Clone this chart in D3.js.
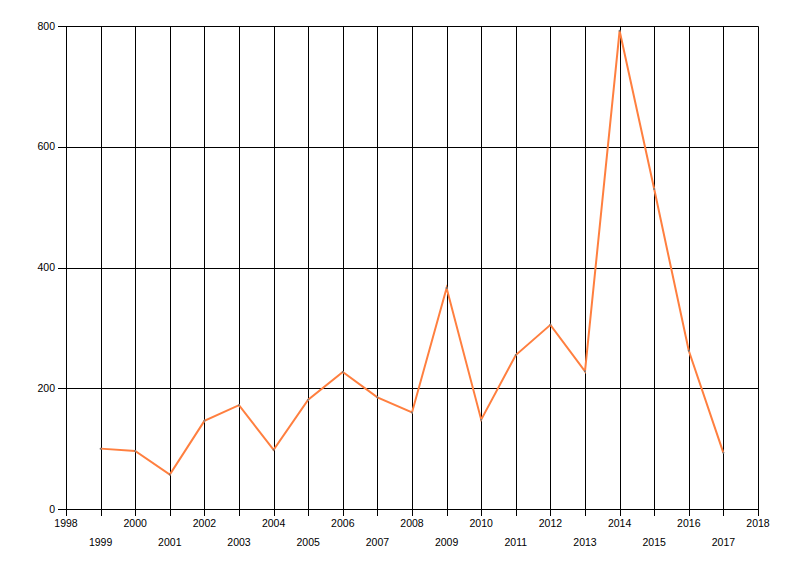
<!DOCTYPE html>
<html>
<head>
<meta charset="utf-8">
<script src="https://cdn.jsdelivr.net/npm/d3@7"></script>
<style>
  body { margin: 0; background: #fff; }
  text { font-family: "Liberation Sans", Arial, sans-serif; font-size: 10.5px; fill: #000; }
</style>
</head>
<body>
<div id="chart"></div>
<script>
// Values
const years = [1999, 2000, 2001, 2002, 2003, 2004, 2005, 2006, 2007, 2008,
               2009, 2010, 2011, 2012, 2013, 2014, 2015, 2016, 2017];
const values = [100, 96, 57, 146, 172, 98, 181, 227, 185, 160,
                366, 148, 255, 305, 228, 792, 530, 262, 93];
const xTicks = d3.range(1998, 2019);
const yTicks = [0, 200, 400, 600, 800];

// Chart dimensions
const margin = { top: 26, right: 42, bottom: 67, left: 66 },
    width = 800 - margin.left - margin.right,
    height = 576 - margin.top - margin.bottom;

const svg = d3.select("#chart")
    .append("svg")
    .attr("width", 800)
    .attr("height", 576)
    .append("g")
    .attr("transform", "translate(" + margin.left + "," + margin.top + ")");

const x = d3.scaleLinear()
    .domain([1998, 2018])
    .range([0, width]);

const y = d3.scaleLinear()
    .domain([0, 800])
    .range([height, 0]);

// snap grid lines to the pixel grid so they all look the same
const px = v => Math.round(v) + 0.5;

// Vertical grid lines, one per year
svg.append("g")
    .selectAll("line")
    .data(xTicks)
    .enter().append("line")
    .attr("x1", d => px(x(d))).attr("x2", d => px(x(d)))
    .attr("y1", px(0)).attr("y2", height + 7)
    .attr("stroke", "#000")
    .attr("stroke-width", 1);

// Horizontal grid lines
svg.append("g")
    .selectAll("line")
    .data(yTicks)
    .enter().append("line")
    .attr("x1", -8).attr("x2", px(width))
    .attr("y1", d => px(y(d))).attr("y2", d => px(y(d)))
    .attr("stroke", "#000")
    .attr("stroke-width", 1);

// Y labels
svg.append("g")
    .selectAll("text")
    .data(yTicks)
    .enter().append("text")
    .attr("x", -11)
    .attr("y", d => y(d))
    .attr("dy", "0.35em")
    .attr("text-anchor", "end")
    .text(d => d);

// X labels, staggered on two rows
svg.append("g")
    .selectAll("text")
    .data(xTicks)
    .enter().append("text")
    .attr("x", d => x(d))
    .attr("y", d => d % 2 === 0 ? height + 14 : height + 33)
    .attr("dy", "0.35em")
    .attr("text-anchor", "middle")
    .text(d => d);

// Data line
const line = d3.line()
    .x((d, i) => x(years[i]))
    .y(d => y(d));

svg.append("path")
    .datum(values)
    .attr("d", line)
    .attr("fill", "none")
    .attr("stroke", "#ff7f3f")
    .attr("stroke-width", 2);

// Tiny point markers
svg.selectAll(".dot")
    .data(values)
    .enter().append("circle")
    .attr("class", "dot")
    .attr("cx", (d, i) => x(years[i]))
    .attr("cy", d => y(d))
    .attr("r", 1)
    .attr("fill", "#777");
</script>
</body>
</html>
